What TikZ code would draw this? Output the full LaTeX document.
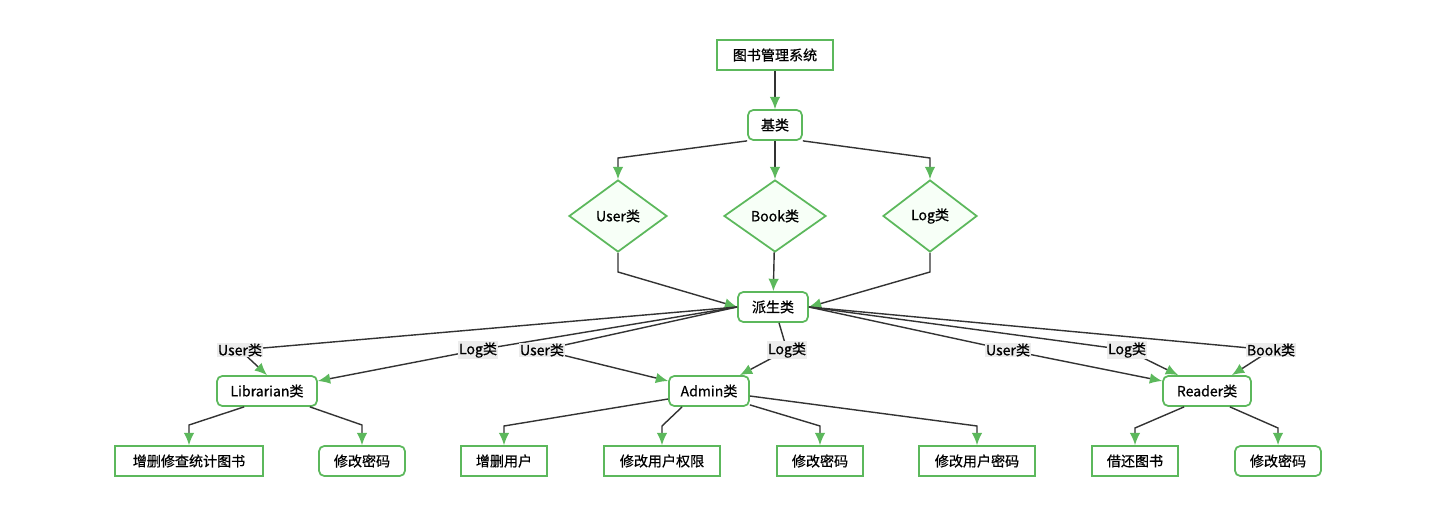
\documentclass[tikz,border=0pt]{standalone}
\usepackage{fontspec}
\setmainfont[FakeBold=0.6,AutoFakeBold=0.6]{Noto Sans CJK SC}
\usetikzlibrary{shapes.geometric,arrows.meta,calc}
\definecolor{edgegreen}{HTML}{5CB85C}
\definecolor{linegray}{HTML}{333333}
\tikzset{>={Latex[length=7pt,width=6pt,color=edgegreen]}}
\tikzset{
  box/.style={draw=edgegreen,line width=1pt,fill=white,minimum height=0.6cm,inner sep=2pt,font=\fontsize{8}{9}\selectfont\bfseries},
  rbox/.style={box,rounded corners=3pt},
  dia/.style={diamond,draw=edgegreen,line width=1pt,fill=green!3,aspect=1.35,inner sep=1pt,font=\fontsize{8}{9}\selectfont\bfseries},
  lbl/.style={fill=gray!15,inner sep=0.5pt,font=\fontsize{8}{9}\selectfont\bfseries}
}

\begin{document}
\begin{tikzpicture}[x=0.02cm,y=-0.02cm,line width=0.8pt,draw=linegray]
            \useasboundingbox (0,0) rectangle (1440,509);
            \node[box,minimum width=2.32cm] (sys) at (775,55) {图书管理系统};
            \node[rbox,minimum width=1.08cm] (base) at (775,125) {基类};
            \node[dia,minimum width=1.96cm,minimum height=1.44cm] (user) at (618,216) {User类};
            \node[dia,minimum width=2.04cm,minimum height=1.44cm] (book) at (775,216) {Book类};
            \node[dia,minimum width=1.88cm,minimum height=1.44cm] (log) at (930,216) {Log类};
            \node[rbox,minimum width=1.4cm] (der) at (773,307) {派生类};
            \node[rbox,minimum width=2cm] (lib) at (267,391) {Librarian类};
            \node[rbox,minimum width=1.6cm] (adm) at (709,391) {Admin类};
            \node[rbox,minimum width=1.76cm] (rdr) at (1207,391) {Reader类};
            % leaves
            \node[box,minimum width=2.96cm] (l1) at (189,461) {增删修查统计图书};
            \node[rbox,minimum width=1.72cm] (l2) at (362,461) {修改密码};
            \node[box,minimum width=1.72cm] (a1) at (504,461) {增删用户};
            \node[box,minimum width=2.32cm] (a2) at (662,461) {修改用户权限};
            \node[box,minimum width=1.72cm] (a3) at (820,461) {修改密码};
            \node[box,minimum width=2.32cm] (a4) at (977,461) {修改用户密码};
            \node[box,minimum width=1.72cm] (r1) at (1135,461) {借还图书};
            \node[rbox,minimum width=1.72cm] (r2) at (1278,461) {修改密码};
            \path[->] (sys) edge (base)
                      (base) edge (book)
                      (book) edge (der);
            \draw[->] (base.south west) -- (618,158) -- (user.north);
            \draw[->] (base.south east) -- (930,158) -- (log.north);
            \draw[->] (user.south) -- (618,272) -- (der.west);
            \draw[->] (log.south) -- (930,272) -- (der.east);
            % derived classes
            \draw[->] (der.west) -- (240,350) node[lbl] {User类} -- (lib.north);
            \draw[->] (der.west) -- (478,350) node[lbl] {Log类} -- ($(lib.east)+(0,-10)$);
            \draw[->] (der.west) -- (542,350) node[lbl] {User类} -- ($(adm.west)+(0,-10)$);
            \draw[->] ($(der.south)+(6,0)$) -- (787,350) node[lbl] {Log类} -- ($(adm.north east)+(-10,0)$);
            \draw[->] (der.east) -- (1008,350) node[lbl] {User类} -- ($(rdr.west)+(0,-10)$);
            \draw[->] (der.east) -- (1127,350) node[lbl] {Log类} -- ($(rdr.north west)+(16,0)$);
            \draw[->] (der.east) -- (1271,350) node[lbl] {Book类} -- ($(rdr.north east)+(-20,0)$);
            % leaves edges
            \draw[->] ($(lib.south west)+(28,0)$) -- (189,425) -- (l1.north);
            \draw[->] ($(lib.south east)+(-8,0)$) -- (362,425) -- (l2.north);
            \draw[->] ($(adm.west)+(0,8)$) -- (504,426) -- (a1.north);
            \draw[->] ($(adm.south west)+(14,0)$) -- (662,426) -- (a2.north);
            \draw[->] ($(adm.south east)+(0,-2)$) -- (820,426) -- (a3.north);
            \draw[->] ($(adm.east)+(0,5)$) -- (977,426) -- (a4.north);
            \draw[->] ($(rdr.south west)+(22,0)$) -- (1135,428) -- (r1.north);
            \draw[->] ($(rdr.south east)+(-22,0)$) -- (1278,428) -- (r2.north);
\end{tikzpicture}
\end{document}
